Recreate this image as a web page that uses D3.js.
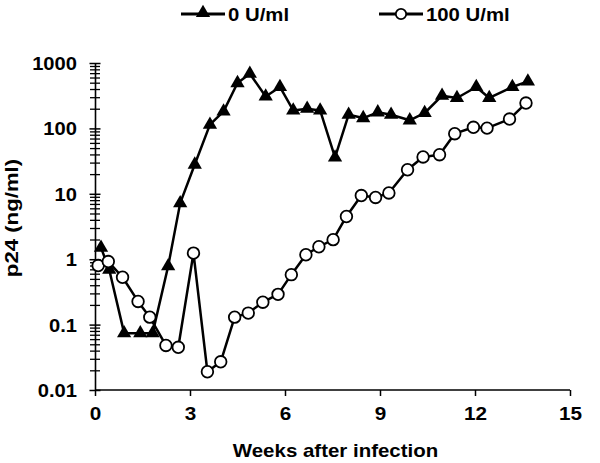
<!DOCTYPE html>
<html>
<head>
<meta charset="utf-8">
<script src="https://cdn.jsdelivr.net/npm/d3@7"></script>
<style>
  body { margin: 0; background: #fff; }
  text { font-family: "Liberation Sans", Arial, sans-serif; font-weight: bold; fill: #000; }
</style>
</head>
<body>
<div id="chart"></div>
<script>
// values (p24 in ng/ml, log scale)
var seriesNames = ["0 U/ml", "100 U/ml"];

var weeks0 = [0.19, 0.45, 0.92, 1.43, 1.82, 2.31, 2.69, 3.15, 3.63, 4.06, 4.5, 4.89, 5.39, 5.84, 6.26,
              6.7, 7.11, 7.58, 8.01, 8.47, 8.93, 9.35, 9.94, 10.41, 10.96, 11.43, 12.04, 12.45, 13.18, 13.67];
var p24_0 = [1.5, 0.69, 0.074, 0.074, 0.074, 0.78, 7.2, 28, 114, 182, 494, 686, 308, 430, 188,
             200, 188, 36, 162, 144, 176, 162, 133, 172, 316, 292, 430, 292, 430, 523];

var weeks100 = [0.1, 0.42, 0.87, 1.36, 1.73, 2.24, 2.63, 3.11, 3.55, 3.97, 4.41, 4.84, 5.3, 5.78, 6.2,
                6.66, 7.07, 7.52, 7.94, 8.41, 8.86, 9.28, 9.87, 10.36, 10.88, 11.36, 11.95, 12.38, 13.09, 13.61];
var p24_100 = [0.8, 0.92, 0.53, 0.226, 0.13, 0.048, 0.045, 1.24, 0.019, 0.027, 0.13, 0.15, 0.22, 0.29, 0.58,
               1.17, 1.55, 1.99, 4.5, 9.4, 8.8, 10.3, 23.3, 36.6, 39.6, 83, 104, 101, 139, 244];

var xTicks = [0, 3, 6, 9, 12, 15];
var yTicks = [0.01, 0.1, 1, 10, 100, 1000];
var yTickLabels = ["0.01", "0.1", "1", "10", "100", "1000"];

var W = 600, H = 463;
var stretch = 1.12; // the original lettering is wider than Arial

var svg = d3.select("#chart").append("svg").attr("width", W).attr("height", H);

var x = d3.scaleLinear().domain([0, 15]).range([95, 570]);
var y = d3.scaleLog().domain([0.01, 1000]).range([390, 63]);

// minor ticks 2..9 in each decade
var minor = [];
yTicks.slice(0, -1).forEach(function(d) {
  for (var k = 2; k <= 9; k++) minor.push(d * k);
});

var yAxis = svg.append("g").attr("transform", "translate(" + x(0) + ",0)")
  .call(d3.axisLeft(y).tickValues(yTicks).tickFormat(function(d, i) { return yTickLabels[i]; }).tickSize(0).tickPadding(0));
yAxis.select(".domain").attr("stroke", "#000").attr("stroke-width", 1.6);
yAxis.selectAll(".tick line").attr("x1", -5.5).attr("x2", 5.5).attr("stroke-width", 1.5);
yAxis.selectAll(".tick text")
  .attr("x", -18 / stretch).attr("dy", "0.36em")
  .attr("transform", "scale(" + stretch + ",1)")
  .style("font-size", "18px");

var yMinor = svg.append("g").attr("transform", "translate(" + x(0) + ",0)")
  .call(d3.axisLeft(y).tickValues(minor).tickFormat("").tickSize(0));
yMinor.select(".domain").remove();
yMinor.selectAll(".tick line").attr("x1", -5).attr("x2", 5).attr("stroke-width", 1.3);

var xAxis = svg.append("g").attr("transform", "translate(0," + y(0.01) + ")")
  .call(d3.axisBottom(x).tickValues(xTicks).tickSize(6).tickPadding(9));
xAxis.select(".domain").attr("stroke", "#000").attr("stroke-width", 1.6).attr("d", "M" + x(0) + ",0H" + x(15));
xAxis.selectAll(".tick line").attr("stroke-width", 1.5);
xAxis.selectAll(".tick text")
  .attr("transform", "scale(" + stretch + ",1)")
  .attr("dy", "0.82em")
  .style("font-size", "18.5px");
svg.selectAll(".tick text").attr("font-family", null).attr("font-size", null).attr("fill", "#000");

// axis titles
svg.append("text")
  .attr("transform", "translate(" + ((x(0) + x(15)) / 2 + 3) + ",457) scale(1.17,1)")
  .attr("text-anchor", "middle").style("font-size", "17.5px")
  .text("Weeks after infection");

svg.append("text")
  .attr("transform", "translate(18,218) rotate(-90) scale(1.2,1)")
  .attr("text-anchor", "middle").style("font-size", "18.5px")
  .text("p24 (ng/ml)");

var line = d3.line().x(function(d) { return x(d[0]); }).y(function(d) { return y(d[1]); });
var tri = d3.symbol().type(d3.symbolTriangle).size(88);

var data0 = weeks0.map(function(w, i) { return [w, p24_0[i]]; });
var data100 = weeks100.map(function(w, i) { return [w, p24_100[i]]; });

svg.append("path").datum(data0).attr("d", line)
  .attr("fill", "none").attr("stroke", "#000").attr("stroke-width", 2.5).attr("stroke-linejoin", "round");
svg.selectAll(".tri").data(data0).enter().append("path")
  .attr("class", "tri")
  .attr("d", tri)
  .attr("transform", function(d) { return "translate(" + x(d[0]) + "," + y(d[1]) + ")"; })
  .attr("fill", "#000");

svg.append("path").datum(data100).attr("d", line)
  .attr("fill", "none").attr("stroke", "#000").attr("stroke-width", 2.5).attr("stroke-linejoin", "round");
svg.selectAll(".circ").data(data100).enter().append("circle")
  .attr("class", "circ")
  .attr("cx", function(d) { return x(d[0]); })
  .attr("cy", function(d) { return y(d[1]); })
  .attr("r", 5.8)
  .attr("fill", "#fff").attr("stroke", "#000").attr("stroke-width", 1.8);

// legend
var legend = svg.append("g");
var legX = [181, 379];
seriesNames.forEach(function(name, i) {
  var g = legend.append("g").attr("transform", "translate(" + legX[i] + ",14)");
  g.append("line").attr("x1", 0).attr("x2", 44).attr("y1", 0).attr("y2", 0)
    .attr("stroke", "#000").attr("stroke-width", 3);
  if (i === 0) {
    g.append("path").attr("d", tri).attr("transform", "translate(22,-1)").attr("fill", "#000");
  } else {
    g.append("circle").attr("cx", 22).attr("cy", 0).attr("r", 5.2)
      .attr("fill", "#fff").attr("stroke", "#000").attr("stroke-width", 1.8);
  }
  g.append("text")
    .attr("transform", "translate(47,7) scale(1.1,1)")
    .style("font-size", "18.5px")
    .text(name);
});
</script>
</body>
</html>
